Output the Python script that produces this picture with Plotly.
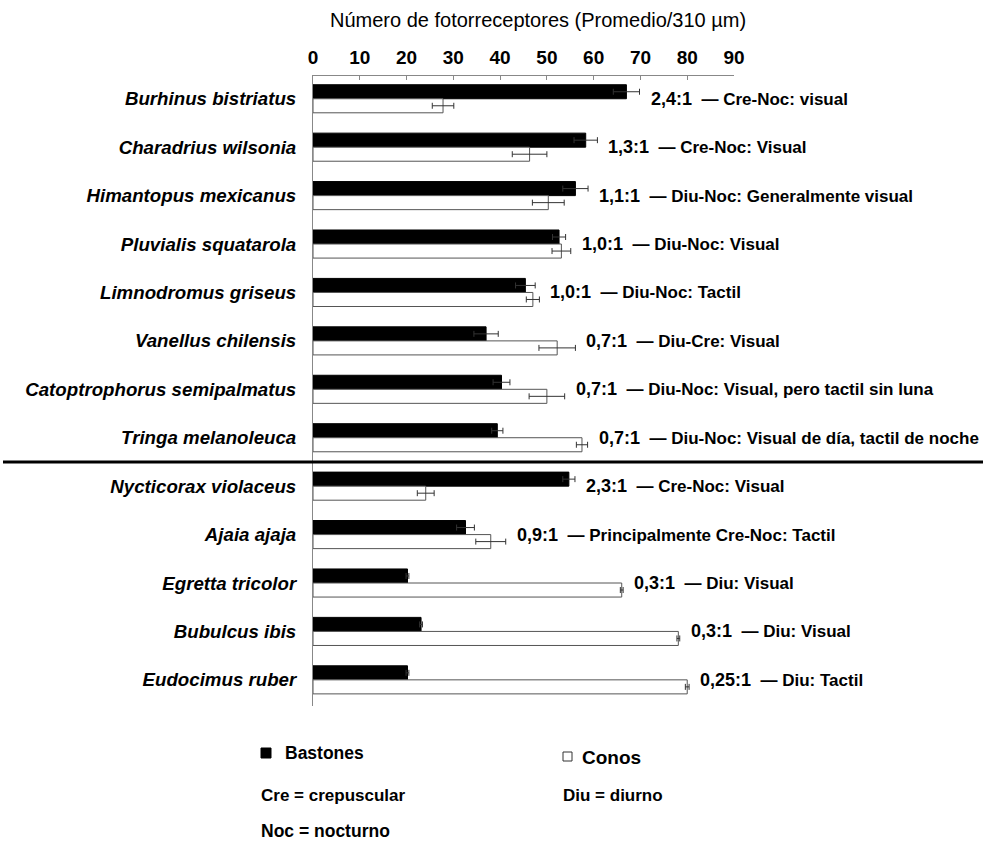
import numpy as np
import plotly.graph_objects as go

# Species (top to bottom)
species = [
    "Burhinus bistriatus",
    "Charadrius wilsonia",
    "Himantopus mexicanus",
    "Pluvialis squatarola",
    "Limnodromus griseus",
    "Vanellus chilensis",
    "Catoptrophorus semipalmatus",
    "Tringa melanoleuca",
    "Nycticorax violaceus",
    "Ajaia ajaja",
    "Egretta tricolor",
    "Bubulcus ibis",
    "Eudocimus ruber",
]

# Mean photoreceptor counts per 310 µm and their error
bastones = [67.0, 58.3, 56.1, 52.6, 45.4, 37.0, 40.3, 39.4, 54.7, 32.6, 20.2, 23.1, 20.2]
bastones_err = [2.8, 2.5, 2.7, 1.4, 2.1, 2.6, 1.8, 1.2, 1.3, 1.9, 0.3, 0.3, 0.3]
conos = [27.8, 46.3, 50.3, 53.1, 47.0, 52.2, 50.0, 57.5, 24.1, 38.0, 66.0, 78.1, 80.0]
conos_err = [2.3, 3.7, 3.4, 2.0, 1.4, 3.9, 3.8, 1.2, 1.8, 3.2, 0.3, 0.3, 0.4]

# Rod:cone ratio and activity / foraging notes
ratios = ["2,4:1", "1,3:1", "1,1:1", "1,0:1", "1,0:1", "0,7:1", "0,7:1",
          "0,7:1", "2,3:1", "0,9:1", "0,3:1", "0,3:1", "0,25:1"]
notes = [
    "Cre-Noc: visual",
    "Cre-Noc: Visual",
    "Diu-Noc: Generalmente visual",
    "Diu-Noc: Visual",
    "Diu-Noc: Tactil",
    "Diu-Cre: Visual",
    "Diu-Noc: Visual, pero tactil sin luna",
    "Diu-Noc: Visual de día, tactil de noche",
    "Cre-Noc: Visual",
    "Principalmente Cre-Noc: Tactil",
    "Diu: Visual",
    "Diu: Visual",
    "Diu: Tactil",
]

x_ticks = [0, 10, 20, 30, 40, 50, 60, 70, 80, 90]

FONT = "Liberation Sans, Arial, Helvetica, sans-serif"

# Plot area in pixels (used to place free text in paper coordinates)
L, R, T, B = 313, 734, 76, 706
def px(x):
    return (x - L) / (R - L)
def py(y):
    return (B - y) / (B - T)

fig = go.Figure()

fig.add_trace(go.Bar(
    name="Bastones", y=species, x=bastones, orientation="h",
    marker=dict(color="black", line=dict(color="black", width=1)),
    error_x=dict(type="data", array=bastones_err, color="#333333", thickness=1, width=3),
    showlegend=False,
))
fig.add_trace(go.Bar(
    name="Conos", y=species, x=conos, orientation="h",
    marker=dict(color="white", line=dict(color="#555555", width=1)),
    error_x=dict(type="data", array=conos_err, color="#333333", thickness=1, width=3),
    showlegend=False,
))

# Ratio + note to the right of each bar pair
ends = np.maximum(np.array(bastones) + np.array(bastones_err),
                  np.array(conos) + np.array(conos_err))
annotations = []
for sp, end, r, n in zip(species, ends, ratios, notes):
    annotations.append(dict(
        x=end, y=sp, xref="x", yref="y", xanchor="left", yanchor="middle",
        xshift=9, showarrow=False,
        text=f"<b><span style='font-size:18px'>{r}</span>\u00a0\u00a0— {n}</b>",
        font=dict(family=FONT, size=17, color="black"),
    ))

# Axis title above the tick labels
annotations.append(dict(
    x=px(328), y=py(20), xref="paper", yref="paper", xanchor="left", yanchor="middle",
    showarrow=False, text="Número de fotorreceptores (Promedio/310 µm)",
    font=dict(family=FONT, size=20, color="black"),
))

# Legend and abbreviations
legend_texts = [
    ("Bastones", 283, 753, 17.5),
    ("Conos", 580, 757, 19),
    ("Cre = crepuscular", 259, 795, 17),
    ("Diu = diurno", 561, 795, 17),
    ("Noc = nocturno", 259, 831, 17.5),
]
for txt, x0, y0, fs in legend_texts:
    annotations.append(dict(
        x=px(x0), y=py(y0), xref="paper", yref="paper", xanchor="left", yanchor="middle",
        showarrow=False, text=f"<b>{txt}</b>",
        font=dict(family=FONT, size=fs, color="black"),
    ))

shapes = [
    # separator between shorebirds and wading birds
    dict(type="line", xref="paper", yref="y", x0=px(3), x1=px(983), y0=7.5, y1=7.5,
         line=dict(color="black", width=3)),
    # legend keys
    dict(type="rect", xref="paper", yref="paper", x0=px(261), x1=px(271),
         y0=py(758), y1=py(748), fillcolor="black", line=dict(color="black", width=1)),
    dict(type="rect", xref="paper", yref="paper", x0=px(563), x1=px(572),
         y0=py(761), y1=py(752), fillcolor="white", line=dict(color="#333333", width=1)),
]

fig.update_layout(
    width=983, height=844,
    margin=dict(l=L, r=983 - R, t=T, b=844 - B, pad=0),
    paper_bgcolor="white", plot_bgcolor="white",
    barmode="group", bargap=0.42, bargroupgap=0,
    font=dict(family=FONT, color="black"),
    annotations=annotations, shapes=shapes,
)

fig.update_xaxes(
    side="top", range=[0, 90], tickvals=x_ticks, ticktext=[str(v) for v in x_ticks],
    showline=True, linecolor="#888888", linewidth=1,
    ticks="inside", ticklen=4, tickcolor="#888888", tickwidth=1,
    tickfont=dict(family=FONT, size=19, color="black", weight="bold"),
    ticklabelstandoff=3,
    showgrid=False, zeroline=False, fixedrange=True,
)
fig.update_yaxes(
    categoryorder="array", categoryarray=species,
    range=[12.54, -0.47],
    showline=True, linecolor="#888888", linewidth=1,
    ticks="", showgrid=False, zeroline=False,
    tickfont=dict(family=FONT, size=18.7, color="black", weight="bold", style="italic"),
    ticklabelstandoff=12, fixedrange=True,
)

fig.write_html("out.html")
